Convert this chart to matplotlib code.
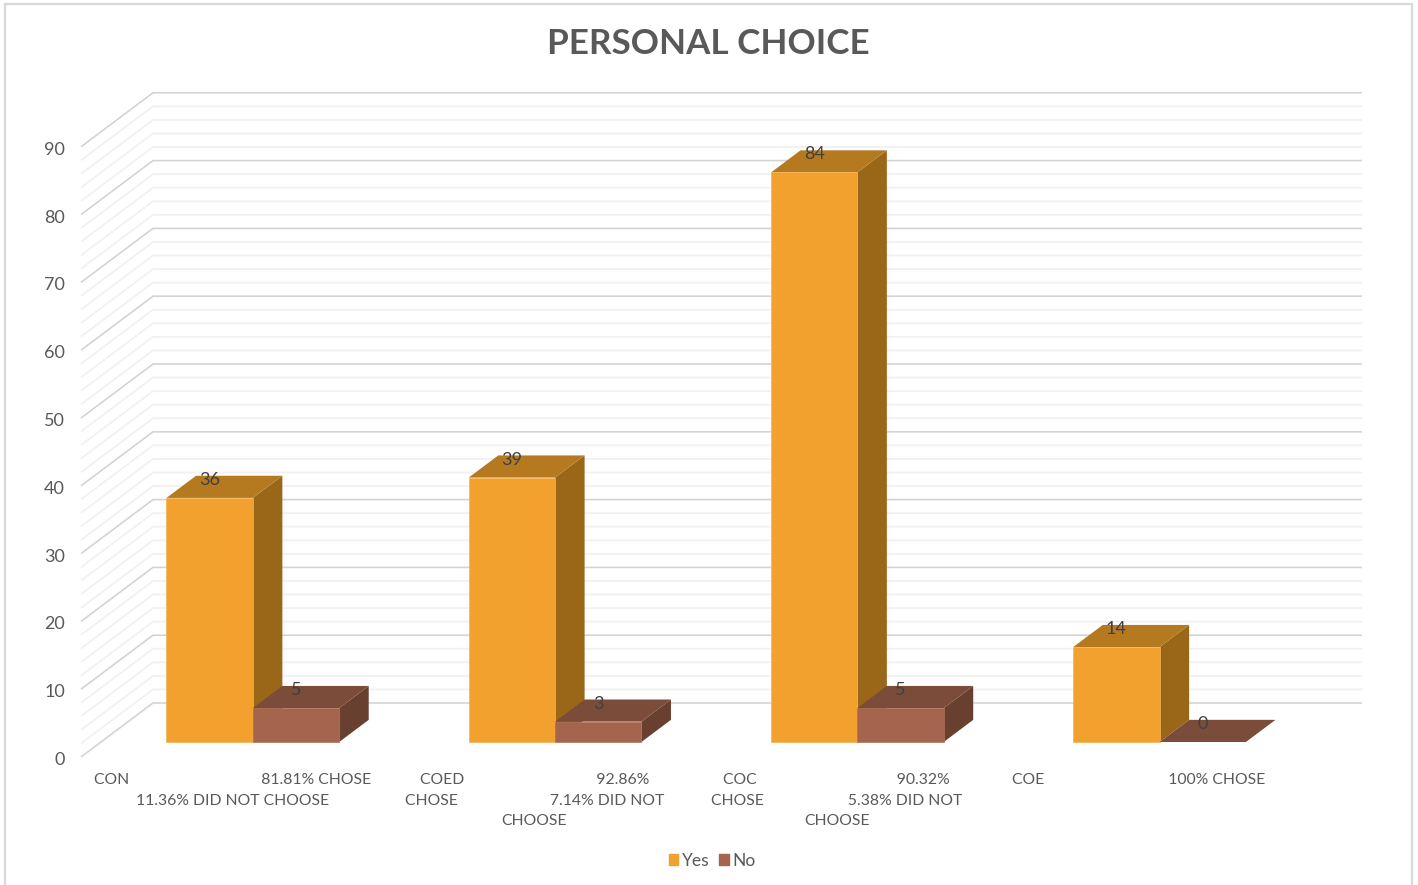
import matplotlib
matplotlib.use('Agg')
import matplotlib.pyplot as plt
from matplotlib.patches import Rectangle

categories = ['CON' + ' ' * 33 + '81.81% CHOSE\n11.36% DID NOT CHOOSE',
              'COED' + ' ' * 33 + '92.86%\nCHOSE' + ' ' * 23 + '7.14% DID NOT\nCHOOSE',
              'COC' + ' ' * 35 + '90.32%\nCHOSE' + ' ' * 21 + '5.38% DID NOT\nCHOOSE',
              'COE' + ' ' * 31 + '100% CHOSE']
yes = [36, 39, 84, 14]
no = [5, 3, 5, 0]
yticks = [0, 10, 20, 30, 40, 50, 60, 70, 80, 90]
minor_ticks = [v for v in range(0, 91, 2) if v % 10 != 0]

FONT = ['Lato', 'DejaVu Sans']
W, H = 1418, 885
px_x = 302.25   # pixels per category
px_y = 6.78     # pixels per value unit

# oblique depth of the fake 3D box, in data units
depth_x = 72 / px_x
depth_y = 54 / px_y
bar_start = 0.278   # where bars start inside the floor depth
bar_depth = 0.41
bar_w = 1 / 3.5

fig = plt.figure(figsize=(W / 100, H / 100), dpi=100, facecolor='white')
fig.patches.append(Rectangle((5 / W, -0.02), 1407 / W, 1 - 4 / H + 0.02, transform=fig.transFigure,
                             facecolor='white', edgecolor='#d9d9d9', linewidth=1.6, zorder=-1))
ax = fig.add_axes([0, 0, 1, 1])
ax.patch.set_alpha(0)
x0 = -0.5 - 81 / px_x
y0 = -(H - 757) / px_y
ax.set_xlim(x0, x0 + W / px_x)
ax.set_ylim(y0, y0 + H / px_y)
ax.axis('off')

left = -0.5
right = 3.5


def grid(v, color, lw):
    ax.plot([left, left + depth_x, right + depth_x], [v, v + depth_y, v + depth_y],
            color=color, lw=lw, solid_capstyle='butt', solid_joinstyle='miter', zorder=1)


for v in minor_ticks:
    grid(v, '#f1f1f1', 1.3)
for v in yticks:
    grid(v, '#d4d4d4', 1.2)
    ax.text(left - 16 / px_x, v - 3 / px_y, str(v), ha='right', va='center', fontsize=13,
            color='#595959', family=FONT)

dx0 = (depth_x * bar_start) + 0.7 / px_x
dy0 = depth_y * bar_start
dx = depth_x * bar_depth
dy = depth_y * bar_depth


def draw_bar(xl, v, front, top, side, edge):
    xl = xl + dx0
    xr = xl + bar_w
    b = dy0
    t = dy0 + v
    if v > 0:
        ax.fill([xr, xr + dx, xr + dx, xr], [b, b + dy, t + dy, t], color=side, lw=0, zorder=3)
    ax.fill([xl, xl + dx, xr + dx, xr], [t, t + dy, t + dy, t], color=top, lw=0, zorder=3)
    if v > 0:
        ax.bar(xl, v, width=bar_w, bottom=b, align='edge', color=front, edgecolor=edge, lw=0.5, zorder=3)
    ax.text(xl + bar_w / 2, t + 18 / px_y, str(v), ha='center', va='center', fontsize=13,
            color='#404040', family=FONT, zorder=5)


for i, cat in enumerate(categories):
    draw_bar(i - bar_w, yes[i], '#f2a12e', '#b57a20', '#9a6718', '#f5b358')
    draw_bar(i, no[i], '#a5644d', '#7c4c3a', '#693f30', '#ad6f59')
    ax.text(i, -16 / px_y, cat, ha='center', va='top', fontsize=11.3, color='#595959',
            family=FONT, linespacing=1.6)

handles = [Rectangle((0, 0), 1, 1, color='#f2a12e'), Rectangle((0, 0), 1, 1, color='#a5644d')]
leg = ax.legend(handles, ['Yes', 'No'], ncol=2, loc='center', bbox_to_anchor=(712 / W, 1 - 861 / H),
                frameon=False, handlelength=0.55, handleheight=0.6, handletextpad=0.2,
                columnspacing=0.55, prop={'family': FONT, 'size': 12.5}, labelcolor='#595959')

fig.text(708 / W, 1 - 44 / H, 'PERSONAL CHOICE', ha='center', va='center', fontsize=25.2,
         fontweight='bold', color='#595959', family=FONT)

fig.savefig('out.png', dpi=100)
